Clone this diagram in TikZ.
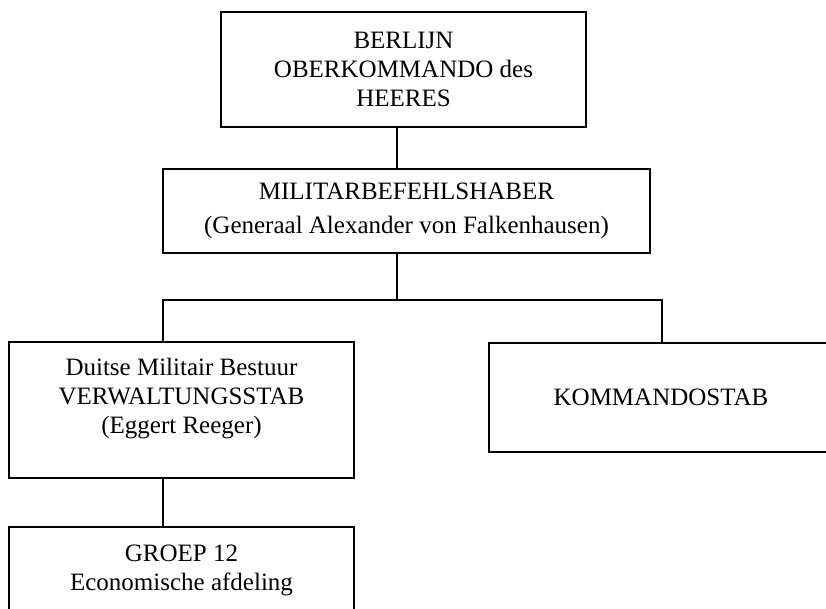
\documentclass[tikz,border=0pt]{standalone}
\usepackage{fontspec}
\setmainfont{Liberation Serif}
\tikzset{
  doos/.style={draw, line width=2.2pt, align=center, inner sep=0pt,
    font=\fontsize{25}{29}\selectfont},
  lijn/.style={line width=2pt}
}
\begin{document}
\begin{tikzpicture}[x=1pt,y=-1pt]
        \useasboundingbox (0,0) rectangle (826,609);
        \clip (0,0) rectangle (826,609);

        % Dozen
        \node[doos, minimum width=365, minimum height=115] (berlijn) at (403.5,69.5)
          {BERLIJN\\OBERKOMMANDO des\\HEERES};
        \node[doos, minimum width=487, minimum height=84] (militar) at (406.5,211)
          {MILITARBEFEHLSHABER\\[5pt](Generaal Alexander von Falkenhausen)};
        \node[doos, minimum width=345, minimum height=136] (verwaltung) at (181.5,410)
          {Duitse Militair Bestuur\\VERWALTUNGSSTAB\\(Eggert Reeger)\\ \mbox{}};
        \node[doos, minimum width=344, minimum height=109] (kommando) at (661,397.5)
          {KOMMANDOSTAB};
        \node[doos, minimum width=345, minimum height=140, anchor=north] (groep) at (181.5,526)
          {GROEP 12\\Economische afdeling\\ \mbox{}\\ \mbox{}};

        % Lijnen
        \coordinate (tak) at (397,300);
        \coordinate (links) at (163,300);
        \coordinate (rechts) at (662,300);
        \draw[lijn] (berlijn.south -| tak) -- (militar.north -| tak);
        \draw[lijn] (militar.south -| tak) -- (tak);
        \draw[lijn] (verwaltung.north -| links) -- (links) -- (rechts) -- (kommando.north -| rechts);
        \draw[lijn] (verwaltung.south -| links) -- (groep.north -| links);
\end{tikzpicture}
\end{document}
